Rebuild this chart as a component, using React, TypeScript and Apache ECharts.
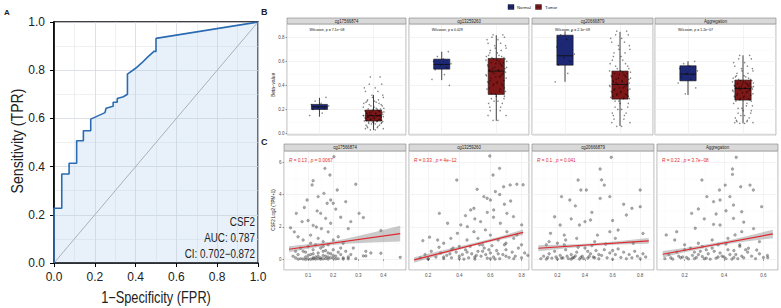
import React, { useEffect, useRef } from "react";
import * as echarts from "echarts";

const FONT = "'Liberation Sans', Arial, Helvetica, sans-serif";
const NAVY = "#1d2874";
const DARKRED = "#7e1818";
const RED = "#e0282e";

// ---------------- Panel A : ROC ----------------
const rocPoints: number[][] = [
  [0, 0], [0, 0.227], [0.038, 0.227], [0.038, 0.369], [0.074, 0.369], [0.074, 0.414],
  [0.111, 0.414], [0.111, 0.507], [0.144, 0.507], [0.144, 0.549], [0.18, 0.549], [0.18, 0.597],
  [0.25, 0.624], [0.255, 0.642], [0.29, 0.65], [0.29, 0.667], [0.31, 0.667], [0.31, 0.683],
  [0.34, 0.69], [0.36, 0.7], [0.36, 0.784], [0.4, 0.808], [0.43, 0.83], [0.46, 0.855],
  [0.49, 0.878], [0.5, 0.878], [0.5, 0.932], [1, 1],
];
const diagonal: number[][] = [[0, 0], [1, 1]];
const rocGene = "CSF2";
const rocAuc = "0.787";
const rocCi = ["0.702", "0.872"];

// ---------------- Panel B : boxplots ----------------
const probes = ["cg17566874", "cg13259260", "cg20666879", "Aggregation"];
const groups = ["Normal", "Tumor"];
const wilcoxonP = ["7.1e\u221208", "0.029", "2.1e\u221209", "1.2e\u221207"];
// [min, q1, median, q3, max]
const normalBox: number[][] = [
  [0.14, 0.2, 0.222, 0.242, 0.297],
  [0.444, 0.535, 0.574, 0.618, 0.68],
  [0.43, 0.568, 0.646, 0.817, 0.85],
  [0.32, 0.438, 0.494, 0.563, 0.6],
];
const tumorBox: number[][] = [
  [0.03, 0.104, 0.148, 0.195, 0.32],
  [0.106, 0.325, 0.519, 0.624, 0.817],
  [0.062, 0.286, 0.408, 0.519, 0.845],
  [0.085, 0.278, 0.375, 0.444, 0.65],
];
const normalBeta: number[][] = [
  [0.3, 0.27, 0.25, 0.24, 0.23, 0.22, 0.21, 0.2, 0.17, 0.15],
  [0.68, 0.64, 0.62, 0.6, 0.58, 0.57, 0.55, 0.53, 0.49, 0.45, 0.4],
  [0.85, 0.82, 0.78, 0.72, 0.66, 0.63, 0.6, 0.57, 0.5, 0.43],
  [0.6, 0.58, 0.56, 0.54, 0.52, 0.5, 0.49, 0.47, 0.45, 0.42, 0.38, 0.33],
];
const tumorBeta: number[][] = [
  [0.47, 0.41, 0.38, 0.35, 0.32, 0.3, 0.28, 0.27, 0.26, 0.25, 0.24, 0.23, 0.22, 0.21, 0.205, 0.2, 0.19, 0.185, 0.18, 0.175, 0.17, 0.165, 0.16, 0.155, 0.15, 0.148, 0.145, 0.14, 0.135, 0.13, 0.125, 0.12, 0.115, 0.11, 0.105, 0.1, 0.095, 0.09, 0.085, 0.08, 0.07, 0.06, 0.05, 0.04, 0.03],
  [0.82, 0.8, 0.78, 0.75, 0.73, 0.71, 0.69, 0.67, 0.65, 0.64, 0.63, 0.62, 0.61, 0.6, 0.59, 0.58, 0.57, 0.56, 0.55, 0.54, 0.53, 0.52, 0.51, 0.5, 0.49, 0.48, 0.47, 0.46, 0.44, 0.43, 0.42, 0.41, 0.4, 0.38, 0.37, 0.35, 0.33, 0.31, 0.29, 0.27, 0.25, 0.22, 0.19, 0.15, 0.11],
  [0.85, 0.82, 0.79, 0.76, 0.73, 0.7, 0.67, 0.64, 0.61, 0.58, 0.56, 0.54, 0.52, 0.51, 0.5, 0.49, 0.48, 0.47, 0.46, 0.45, 0.44, 0.43, 0.42, 0.41, 0.4, 0.39, 0.38, 0.37, 0.36, 0.35, 0.34, 0.33, 0.32, 0.31, 0.3, 0.29, 0.27, 0.25, 0.22, 0.2, 0.17, 0.15, 0.12, 0.09, 0.06],
  [0.65, 0.62, 0.59, 0.56, 0.54, 0.52, 0.5, 0.48, 0.47, 0.46, 0.45, 0.44, 0.43, 0.42, 0.415, 0.41, 0.4, 0.395, 0.39, 0.385, 0.38, 0.375, 0.37, 0.365, 0.36, 0.35, 0.34, 0.33, 0.32, 0.31, 0.3, 0.29, 0.28, 0.27, 0.25, 0.23, 0.21, 0.19, 0.17, 0.15, 0.13, 0.11, 0.1, 0.09, 0.085],
];
const jitterDx = [
  0.12, -0.08, 0.03, -0.15, 0.17, -0.02, 0.09, -0.12, 0.05, -0.18, 0.14, -0.05, 0.01, 0.19, -0.1,
  0.07, -0.16, 0.11, -0.03, 0.16, -0.13, 0.04, -0.07, 0.13, -0.19, 0.08, -0.01, 0.18, -0.11, 0.02,
  -0.14, 0.1, -0.06, 0.15, -0.17, 0.06, -0.09, 0.0, 0.14, -0.04, 0.11, -0.12, 0.07, -0.15, 0.03,
];
const jitterDx2 = [
  -0.06, 0.15, -0.17, 0.08, -0.03, 0.18, -0.11, 0.02, -0.14, 0.1, -0.08, 0.16, -0.19, 0.05, 0.13,
  -0.01, 0.09, -0.15, 0.19, -0.07, 0.04, -0.12, 0.17, -0.04, 0.11, -0.18, 0.06, -0.1, 0.14, -0.16,
  0.01, -0.05, 0.12, -0.13, 0.07, 0.17, -0.02, 0.15, -0.09, 0.03, -0.14, 0.08, -0.11, 0.18, -0.06,
];

// ---------------- Panel C : correlations ----------------
const corrR = ["0.13", "0.33", "0.1", "0.22"];
const corrP = ["0.0067", "4e\u221212", "0.041", "3.7e\u221208"];
const scatterCg17566874: number[][] = [
  [0.203, 6.33], [0.167, 5.61], [0.187, 5.2], [0.12, 4.85], [0.29, 4.63], [0.116, 4.59], [0.216, 4.28], [0.163, 4.07], [0.14, 3.87], [0.19, 3.66],
  [0.096, 3.66], [0.2, 3.46], [0.176, 3.46], [0.25, 3.56], [0.053, 2.84], [0.303, 2.84], [0.32, 2.58], [0.136, 2.99], [0.15, 2.84], [0.076, 2.33],
  [0.27, 2.33], [0.17, 2.53], [0.19, 2.23], [0.12, 2.1], [0.133, 2.0], [0.153, 1.9], [0.03, 1.95], [0.045, 1.7], [0.39, 1.78], [0.1, 2.4],
  [0.23, 2.6], [0.21, 3.1], [0.085, 3.2], [0.26, 1.9], [0.06, 1.4], [0.11, 1.5], [0.18, 1.7], [0.22, 1.4], [0.14, 1.3], [0.08, 1.2],
  [0.16, 1.1], [0.2, 1.2], [0.24, 1.0], [0.28, 0.7], [0.33, 0.5], [0.35, 0.4], [0.467, 0.13], [0.32, 0.22], [0.33, 0.22], [0.39, 0.38],
  [0.05, 0.1], [0.06, 0.3], [0.07, 0.05], [0.08, 0.5], [0.09, 0.15], [0.1, 0.8], [0.1, 0.05], [0.11, 0.3], [0.12, 0.6], [0.12, 0.1],
  [0.13, 0.02], [0.13, 0.9], [0.14, 0.4], [0.15, 0.1], [0.15, 0.7], [0.16, 0.25], [0.17, 0.05], [0.17, 0.55], [0.18, 0.15], [0.18, 0.9],
  [0.19, 0.35], [0.2, 0.08], [0.2, 0.6], [0.21, 0.2], [0.22, 0.45], [0.22, 0.05], [0.23, 0.3], [0.24, 0.1], [0.25, 0.5], [0.26, 0.15],
  [0.27, 0.3], [0.09, 0.45], [0.11, 1.0], [0.14, 0.05], [0.16, 0.8], [0.19, 0.1], [0.23, 0.7], [0.07, 0.7], [0.05, 0.5], [0.04, 0.2],
  [0.06, 0.02], [0.08, 0.03], [0.09, 0.0], [0.11, 0.01], [0.12, 0.03], [0.13, 0.15], [0.15, 0.02], [0.16, 0.04], [0.17, 0.2], [0.18, 0.02],
  [0.2, 0.25], [0.21, 0.03], [0.24, 0.02], [0.26, 0.04], [0.29, 0.05], [0.1, 0.25], [0.12, 0.35], [0.14, 0.2], [0.16, 0.5], [0.18, 0.4],
];
const scatterCg13259260: number[][] = [
  [0.596, 6.37], [0.659, 5.61], [0.617, 5.2], [0.384, 4.89], [0.77, 4.63], [0.727, 4.59], [0.685, 4.48], [0.515, 4.32], [0.632, 4.18], [0.558, 3.87],
  [0.579, 3.77], [0.6, 3.66], [0.473, 3.05], [0.494, 3.15], [0.272, 2.84], [0.621, 3.05], [0.706, 2.84], [0.748, 2.64], [0.325, 2.23], [0.41, 2.13],
  [0.452, 2.02], [0.537, 2.33], [0.664, 2.23], [0.166, 1.16], [0.209, 1.37], [0.261, 1.2], [0.346, 1.3], [0.388, 1.61], [0.494, 1.71], [0.568, 1.82],
  [0.706, 1.71], [0.77, 1.51], [0.801, 2.13], [0.3, 1.0], [0.45, 1.2], [0.52, 1.3], [0.6, 1.5], [0.65, 1.2], [0.7, 1.0], [0.75, 1.3],
  [0.8, 0.9], [0.55, 0.9], [0.4, 0.8], [0.35, 0.6], [0.62, 2.6], [0.69, 3.4], [0.58, 2.9], [0.5, 2.5], [0.44, 2.7], [0.73, 3.6],
  [0.81, 4.6], [0.66, 4.0], [0.15, 0.1], [0.18, 0.3], [0.2, 0.05], [0.22, 0.5], [0.25, 0.15], [0.28, 0.4], [0.3, 0.05], [0.32, 0.25],
  [0.35, 0.1], [0.38, 0.45], [0.4, 0.05], [0.42, 0.3], [0.44, 0.6], [0.46, 0.1], [0.48, 0.35], [0.5, 0.02], [0.52, 0.5], [0.54, 0.2],
  [0.56, 0.7], [0.58, 0.08], [0.6, 0.4], [0.62, 0.15], [0.64, 0.55], [0.66, 0.05], [0.68, 0.3], [0.7, 0.6], [0.72, 0.12], [0.74, 0.45],
  [0.76, 0.2], [0.78, 0.7], [0.8, 0.1], [0.82, 0.4], [0.84, 0.25], [0.47, 0.8], [0.53, 0.9], [0.61, 0.85], [0.36, 0.7], [0.27, 0.75],
  [0.69, 0.9], [0.57, 0.3], [0.2, 0.02], [0.3, 0.15], [0.4, 0.2], [0.5, 0.15], [0.6, 0.05], [0.7, 0.2], [0.34, 0.35], [0.45, 0.45],
  [0.55, 0.5], [0.65, 0.35], [0.75, 0.05], [0.43, 0.02], [0.63, 0.02], [0.51, 0.25], [0.59, 0.6],
];
const scatterCg20666879: number[][] = [
  [0.59, 6.29], [0.51, 5.57], [0.54, 4.58], [0.35, 4.89], [0.37, 4.28], [0.41, 4.28], [0.8, 4.28], [0.23, 3.87], [0.29, 3.66], [0.51, 3.76],
  [0.58, 3.87], [0.8, 3.25], [0.74, 3.15], [0.18, 2.63], [0.22, 2.12], [0.36, 2.12], [0.4, 2.33], [0.44, 2.43], [0.58, 1.71], [0.64, 1.81],
  [0.7, 2.74], [0.15, 1.61], [0.14, 1.1], [0.25, 1.5], [0.34, 1.3], [0.49, 1.5], [0.3, 2.5], [0.45, 2.9], [0.6, 2.4], [0.68, 3.4],
  [0.52, 4.9], [0.33, 3.3], [0.26, 1.2], [0.47, 1.1], [0.62, 1.3], [0.75, 1.0], [0.82, 1.6], [0.2, 1.0], [0.12, 0.9],
  [0.08, 0.05], [0.1, 0.2], [0.12, 0.02], [0.14, 0.35], [0.16, 0.08], [0.18, 0.5], [0.2, 0.03], [0.22, 0.25], [0.24, 0.1], [0.26, 0.6],
  [0.28, 0.05], [0.3, 0.3], [0.32, 0.12], [0.34, 0.45], [0.36, 0.02], [0.38, 0.2], [0.4, 0.7], [0.42, 0.08], [0.44, 0.35], [0.46, 0.15],
  [0.48, 0.55], [0.5, 0.04], [0.52, 0.25], [0.54, 0.6], [0.56, 0.1], [0.58, 0.4], [0.6, 0.02], [0.62, 0.3], [0.64, 0.65], [0.66, 0.12],
  [0.68, 0.45], [0.7, 0.05], [0.72, 0.3], [0.74, 0.1], [0.76, 0.5], [0.78, 0.2], [0.8, 0.05], [0.82, 0.35], [0.84, 0.15], [0.45, 0.85],
  [0.25, 0.9], [0.35, 0.75], [0.55, 0.95], [0.3, 0.02], [0.42, 0.5], [0.5, 0.3], [0.6, 0.55],
  [0.13, 0.12], [0.19, 0.15], [0.23, 0.08], [0.27, 0.2], [0.31, 0.1], [0.33, 0.22], [0.37, 0.12], [0.39, 0.05], [0.43, 0.18], [0.47, 0.1],
];
const scatterAggregation: number[][] = [
  [0.462, 6.29], [0.443, 5.57], [0.443, 5.24], [0.288, 4.89], [0.406, 4.58], [0.485, 4.48], [0.532, 4.58], [0.549, 4.28], [0.377, 4.28], [0.313, 3.87],
  [0.43, 3.87], [0.347, 3.56], [0.38, 3.66], [0.448, 3.35], [0.27, 3.11], [0.236, 2.84], [0.591, 3.25], [0.49, 2.94], [0.38, 2.12], [0.347, 2.16],
  [0.448, 2.53], [0.107, 1.51], [0.16, 1.71], [0.254, 1.92], [0.456, 1.51], [0.49, 1.71], [0.524, 0.69], [0.566, 0.58], [0.622, 0.11],
  [0.3, 2.5], [0.36, 2.8], [0.41, 3.0], [0.5, 2.3], [0.55, 1.9], [0.42, 1.3], [0.34, 1.2], [0.27, 1.0], [0.2, 0.9], [0.15, 1.2],
  [0.48, 0.9], [0.58, 1.1], [0.1, 0.05], [0.12, 0.3], [0.14, 0.02], [0.16, 0.45], [0.18, 0.1], [0.2, 0.6], [0.22, 0.03], [0.24, 0.25],
  [0.26, 0.12], [0.28, 0.5], [0.3, 0.04], [0.32, 0.35], [0.34, 0.7], [0.36, 0.08], [0.38, 0.4], [0.4, 0.15], [0.42, 0.6], [0.44, 0.02],
  [0.46, 0.3], [0.48, 0.8], [0.5, 0.1], [0.52, 0.45], [0.54, 0.2], [0.56, 0.05], [0.58, 0.35], [0.6, 0.12], [0.62, 0.25], [0.37, 0.9],
  [0.41, 0.95], [0.29, 0.8], [0.23, 0.7], [0.45, 0.55], [0.33, 0.02], [0.39, 0.2], [0.43, 0.3], [0.47, 0.05], [0.27, 0.3], [0.19, 0.15],
  [0.35, 0.5], [0.51, 0.6], [0.31, 0.6], [0.25, 0.45],
  [0.13, 0.1], [0.17, 0.2], [0.21, 0.12], [0.25, 0.05], [0.29, 0.18], [0.31, 0.08], [0.37, 0.15], [0.41, 0.05], [0.45, 0.12], [0.49, 0.2],
];
const scatterSets = [scatterCg17566874, scatterCg13259260, scatterCg20666879, scatterAggregation];
const fitLines: number[][][] = [
  [[0.024, 0.63], [0.467, 1.59]],
  [[0.11, -0.03], [0.81, 1.67]],
  [[0.062, 0.69], [0.862, 1.14]],
  [[0.089, 0.32], [0.648, 1.57]],
];
// [x, lower, upper]
const fitBands: number[][][] = [
  [[0.024, 0.44, 0.82], [0.1, 0.66, 0.93], [0.18, 0.86, 1.08], [0.25, 0.97, 1.27], [0.35, 1.05, 1.63], [0.467, 1.1, 2.08]],
  [[0.11, -0.2, 0.14], [0.3, 0.34, 0.58], [0.48, 0.82, 0.98], [0.65, 1.19, 1.39], [0.81, 1.5, 1.84]],
  [[0.062, 0.5, 0.88], [0.25, 0.68, 0.9], [0.45, 0.83, 0.99], [0.65, 0.92, 1.14], [0.862, 0.96, 1.32]],
  [[0.089, 0.12, 0.52], [0.2, 0.44, 0.7], [0.33, 0.76, 0.96], [0.45, 1.01, 1.25], [0.648, 1.31, 1.83]],
];

// ---------------- layout ----------------
const A_GRID = { left: 54, top: 22, width: 204, height: 241 };
const B_LEFT = [287, 409, 532, 655];
const B_W = [119, 120, 121, 121];
const B_TOP = 24;
const B_H = 111;
const C_LEFT = [284, 409, 532, 657];
const C_W = [122, 120, 122, 121];
const C_TOP = 151;
const C_H = 119;
const C_XRANGE = [[0.004, 0.49], [0.077, 0.848], [0.016, 0.9], [0.06, 0.674]];
const C_XSPLIT = [5, 4, 4, 3];

function txt(x: number, y: number, text: string, size: number, o: any = {}) {
  const align = o.align || "left";
  return {
    type: "text",
    x,
    y,
    rotation: o.rotation || 0,
    scaleX: o.scaleX || 1,
    z: 100,
    style: {
      text,
      fontSize: size,
      fontFamily: FONT,
      fontWeight: o.bold ? "bold" : "normal",
      fill: o.color || "#222",
      align,
      textAlign: align,
      verticalAlign: "middle",
      textVerticalAlign: "middle",
      rich: o.rich,
    },
  };
}

function buildOption() {
  const grids: any[] = [];
  const xAxes: any[] = [];
  const yAxes: any[] = [];
  const series: any[] = [];
  const g: any[] = [];

  const fmt1 = (v: number) => v.toFixed(1);

  // ---- A ----
  grids.push({ ...A_GRID, show: true, borderColor: "#000", borderWidth: 1.4, containLabel: false, outerBoundsMode: "none" });
  const aAxisCommon = {
    type: "value",
    min: 0,
    max: 1,
    interval: 0.2,
    axisLine: { show: true, lineStyle: { color: "#000", width: 1.6 } },
    axisTick: { show: true, length: 4, lineStyle: { color: "#000", width: 1 } },
    splitLine: { show: true, lineStyle: { color: "#d4d9de", width: 0.8 } },
    minorTick: { show: false, splitNumber: 2 },
    minorSplitLine: { show: true, lineStyle: { color: "#e2e6ea", width: 0.6 } },
  };
  xAxes.push({ ...aAxisCommon, gridIndex: 0, axisLabel: { fontSize: 12, color: "#222", margin: 8, fontFamily: FONT, formatter: fmt1 } });
  yAxes.push({ ...aAxisCommon, gridIndex: 0, axisLabel: { fontSize: 12, color: "#222", margin: 9, fontFamily: FONT, formatter: fmt1 } });
  series.push({
    type: "line", xAxisIndex: 0, yAxisIndex: 0, data: diagonal, symbol: "none",
    lineStyle: { color: "#a9a9a9", width: 1 }, z: 3,
  });
  series.push({
    type: "line", xAxisIndex: 0, yAxisIndex: 0, data: rocPoints, symbol: "none",
    lineStyle: { color: "#2b6bb2", width: 1.6 },
    areaStyle: { color: "rgba(170,203,235,0.38)" }, z: 4,
  });
  g.push(txt(4, 12, "A", 8, { bold: true }));
  g.push(txt(17, 141, "Sensitivity (TPR)", 16, { rotation: Math.PI / 2, scaleX: 0.88, align: "center" }));
  g.push(txt(156, 297, "1\u2212Specificity (FPR)", 16, { scaleX: 0.8, align: "center" }));
  g.push(txt(255, 222, rocGene, 12, { align: "right", scaleX: 0.82 }));
  g.push(txt(255, 238, "AUC: " + rocAuc, 12, { align: "right", scaleX: 0.82 }));
  g.push(txt(255, 254, "CI: " + rocCi[0] + "\u2212" + rocCi[1], 12, { align: "right", scaleX: 0.82 }));

  // ---- B ----
  const smallLabel = { fontSize: 4.5, color: "#4d4d4d", fontFamily: FONT };
  for (let i = 0; i < 4; i++) {
    const gi = grids.length;
    grids.push({ left: B_LEFT[i], top: B_TOP, width: B_W[i], height: B_H, show: true, borderColor: "#808080", borderWidth: 0.6, containLabel: false, outerBoundsMode: "none" });
    xAxes.push({
      gridIndex: gi, type: "value", min: 0.4, max: 2.6, splitNumber: 2,
      axisLine: { show: false }, axisTick: { show: false }, axisLabel: { show: false },
      splitLine: { show: true, lineStyle: { color: "#ebebeb", width: 0.6 } },
    });
    yAxes.push({
      gridIndex: gi, type: "value", min: -0.012, max: 0.91, splitNumber: 5,
      axisLine: { show: false },
      axisTick: { show: i === 0, length: 1.5, lineStyle: { color: "#333", width: 0.5 } },
      axisLabel: { show: i === 0, ...smallLabel, margin: 2.5, showMinLabel: false, showMaxLabel: false, formatter: fmt1 },
      splitLine: { show: true, lineStyle: { color: "#ebebeb", width: 0.6 } },
      minorTick: { show: false, splitNumber: 2 },
      minorSplitLine: { show: true, lineStyle: { color: "#f3f3f3", width: 0.4 } },
    });
    const boxData = [[1, ...normalBox[i]], [2, ...tumorBox[i]]];
    series.push({
      type: "custom", xAxisIndex: gi, yAxisIndex: gi, data: boxData, z: 3,
      encode: { x: 0, y: [1, 2, 3, 4, 5] },
      renderItem: (params: any, api: any) => {
        const pos = api.value(0);
        const lo = api.coord([pos, api.value(1)]);
        const q1 = api.coord([pos, api.value(2)]);
        const med = api.coord([pos, api.value(3)]);
        const q3 = api.coord([pos, api.value(4)]);
        const hi = api.coord([pos, api.value(5)]);
        const hw = api.size([0.148, 0])[0];
        const fill = params.dataIndex === 0 ? NAVY : DARKRED;
        return {
          type: "group",
          children: [
            { type: "line", shape: { x1: lo[0], y1: lo[1], x2: hi[0], y2: hi[1] }, style: { stroke: "#111", lineWidth: 0.8 } },
            { type: "rect", shape: { x: q3[0] - hw, y: q3[1], width: hw * 2, height: q1[1] - q3[1] }, style: { fill, stroke: "#111", lineWidth: 0.6 } },
            { type: "line", shape: { x1: med[0] - hw, y1: med[1], x2: med[0] + hw, y2: med[1] }, style: { stroke: "#111", lineWidth: 0.9 } },
          ],
        };
      },
    });
    series.push({
      type: "scatter", xAxisIndex: gi, yAxisIndex: gi, symbolSize: 1.5, z: 4,
      itemStyle: { color: "rgba(0,0,0,0.6)" },
      data: normalBeta[i].map((v, k) => [1 + jitterDx[k], v]),
    });
    series.push({
      type: "scatter", xAxisIndex: gi, yAxisIndex: gi, symbolSize: 1.5, z: 4,
      itemStyle: { color: "rgba(0,0,0,0.6)" },
      data: tumorBeta[i].map((v, k) => [2 + jitterDx[k], v]),
    });
    series.push({
      type: "scatter", xAxisIndex: gi, yAxisIndex: gi, symbolSize: 1.5, z: 4,
      itemStyle: { color: "rgba(0,0,0,0.6)" },
      data: tumorBeta[i].map((v, k) => [2 + jitterDx2[k], v]),
    });
    // strip + texts
    g.push({ type: "rect", z: 90, shape: { x: B_LEFT[i], y: 18, width: B_W[i], height: 6 }, style: { fill: "#d9d9d9", stroke: "#808080", lineWidth: 0.6 } });
    g.push(txt(B_LEFT[i] + B_W[i] / 2, 21, probes[i], 4.8, { align: "center", color: "#1a1a1a", scaleX: 0.9 }));
    g.push(txt(B_LEFT[i] + B_W[i] * 0.273 - 10, 29.5, "Wilcoxon, p = " + wilcoxonP[i], 4.3, { scaleX: 0.82, color: "#111" }));
  }
  g.push(txt(261, 12, "B", 9, { bold: true }));
  g.push(txt(273, 85, "Beta\u2212value", 4.8, { rotation: Math.PI / 2, align: "center", color: "#222" }));
  // legend
  g.push({ type: "rect", z: 90, shape: { x: 508, y: 4.5, width: 6, height: 5 }, style: { fill: NAVY, stroke: "#111", lineWidth: 0.4 } });
  g.push({ type: "line", z: 91, shape: { x1: 508, y1: 7, x2: 514, y2: 7 }, style: { stroke: "#111", lineWidth: 0.5 } });
  g.push(txt(517, 7, groups[0], 4.3, { color: "#222" }));
  g.push({ type: "rect", z: 90, shape: { x: 535.5, y: 4.5, width: 6, height: 5 }, style: { fill: DARKRED, stroke: "#111", lineWidth: 0.4 } });
  g.push({ type: "line", z: 91, shape: { x1: 535.5, y1: 7, x2: 541.5, y2: 7 }, style: { stroke: "#111", lineWidth: 0.5 } });
  g.push(txt(545, 7, groups[1], 4.3, { color: "#222" }));

  // ---- C ----
  for (let i = 0; i < 4; i++) {
    const gi = grids.length;
    grids.push({ left: C_LEFT[i], top: C_TOP, width: C_W[i], height: C_H, show: true, borderColor: "#808080", borderWidth: 0.6, containLabel: false, outerBoundsMode: "none" });
    xAxes.push({
      gridIndex: gi, type: "value", min: C_XRANGE[i][0], max: C_XRANGE[i][1], splitNumber: C_XSPLIT[i],
      axisLine: { show: false },
      axisTick: { show: true, length: 1.5, lineStyle: { color: "#333", width: 0.5 } },
      axisLabel: { ...smallLabel, margin: 3, showMinLabel: false, showMaxLabel: false, formatter: fmt1 },
      splitLine: { show: true, lineStyle: { color: "#ebebeb", width: 0.6 } },
      minorTick: { show: false, splitNumber: 2 },
      minorSplitLine: { show: true, lineStyle: { color: "#f4f4f4", width: 0.4 } },
    });
    yAxes.push({
      gridIndex: gi, type: "value", min: -0.65, max: 6.68, splitNumber: 4,
      axisLine: { show: false },
      axisTick: { show: i === 0, length: 1.5, lineStyle: { color: "#333", width: 0.5 } },
      axisLabel: { show: i === 0, ...smallLabel, margin: 2.5, showMinLabel: false, showMaxLabel: false, formatter: (v: number) => String(Math.round(v)) },
      splitLine: { show: true, lineStyle: { color: "#ebebeb", width: 0.6 } },
      minorTick: { show: false, splitNumber: 2 },
      minorSplitLine: { show: true, lineStyle: { color: "#f4f4f4", width: 0.4 } },
    });
    series.push({
      type: "scatter", xAxisIndex: gi, yAxisIndex: gi, symbolSize: 2.8, z: 3,
      itemStyle: { color: "rgba(0,0,0,0.42)", borderColor: "rgba(0,0,0,0.6)", borderWidth: 0.3 },
      data: scatterSets[i],
    });
    const band = fitBands[i];
    series.push({
      type: "custom", xAxisIndex: gi, yAxisIndex: gi, z: 4,
      data: band.map((b) => [b[0], b[1], b[2]]),
      encode: { x: 0, y: [1, 2] },
      renderItem: (params: any, api: any) => {
        if (params.dataIndex !== 0) return null;
        const upper = band.map((b) => api.coord([b[0], b[2]]));
        const lower = band.slice().reverse().map((b) => api.coord([b[0], b[1]]));
        return { type: "polygon", shape: { points: upper.concat(lower) }, style: { fill: "rgba(128,128,128,0.42)" } };
      },
    });
    series.push({
      type: "line", xAxisIndex: gi, yAxisIndex: gi, data: fitLines[i], symbol: "none", z: 5,
      lineStyle: { color: RED, width: 1.2 },
    });
    g.push({ type: "rect", z: 90, shape: { x: C_LEFT[i], y: 144, width: C_W[i], height: 7 }, style: { fill: "#d9d9d9", stroke: "#808080", lineWidth: 0.6 } });
    g.push(txt(C_LEFT[i] + C_W[i] / 2, 147.5, probes[i], 4.8, { align: "center", color: "#1a1a1a", scaleX: 0.9 }));
    g.push(txt(C_LEFT[i] + 5, 160, "{i|R} = " + corrR[i] + " , {i|p} = " + corrP[i], 5.5, {
      color: RED, scaleX: 0.85,
      rich: { i: { fontStyle: "italic", fontSize: 5.5, fontFamily: FONT, fill: RED } },
    }));
  }
  g.push(txt(261, 142, "C", 9, { bold: true }));
  g.push(txt(273, 210, "CSF2 Log2 (TPM+1)", 4.5, { rotation: Math.PI / 2, align: "center", color: "#222" }));

  return {
    animation: false,
    backgroundColor: "#ffffff",
    textStyle: { fontFamily: FONT },
    grid: grids,
    xAxis: xAxes,
    yAxis: yAxes,
    series,
    graphic: { elements: g },
  };
}

export default function App() {
  const ref = useRef<HTMLDivElement>(null);
  useEffect(() => {
    if (!ref.current) return;
    const chart = echarts.init(ref.current, undefined, { renderer: "svg" });
    chart.setOption(buildOption() as any);
    return () => chart.dispose();
  }, []);
  return (
    <div
      ref={ref}
      style={{ position: "absolute", left: 0, top: 0, width: 781, height: 308, background: "#fff" }}
    />
  );
}
